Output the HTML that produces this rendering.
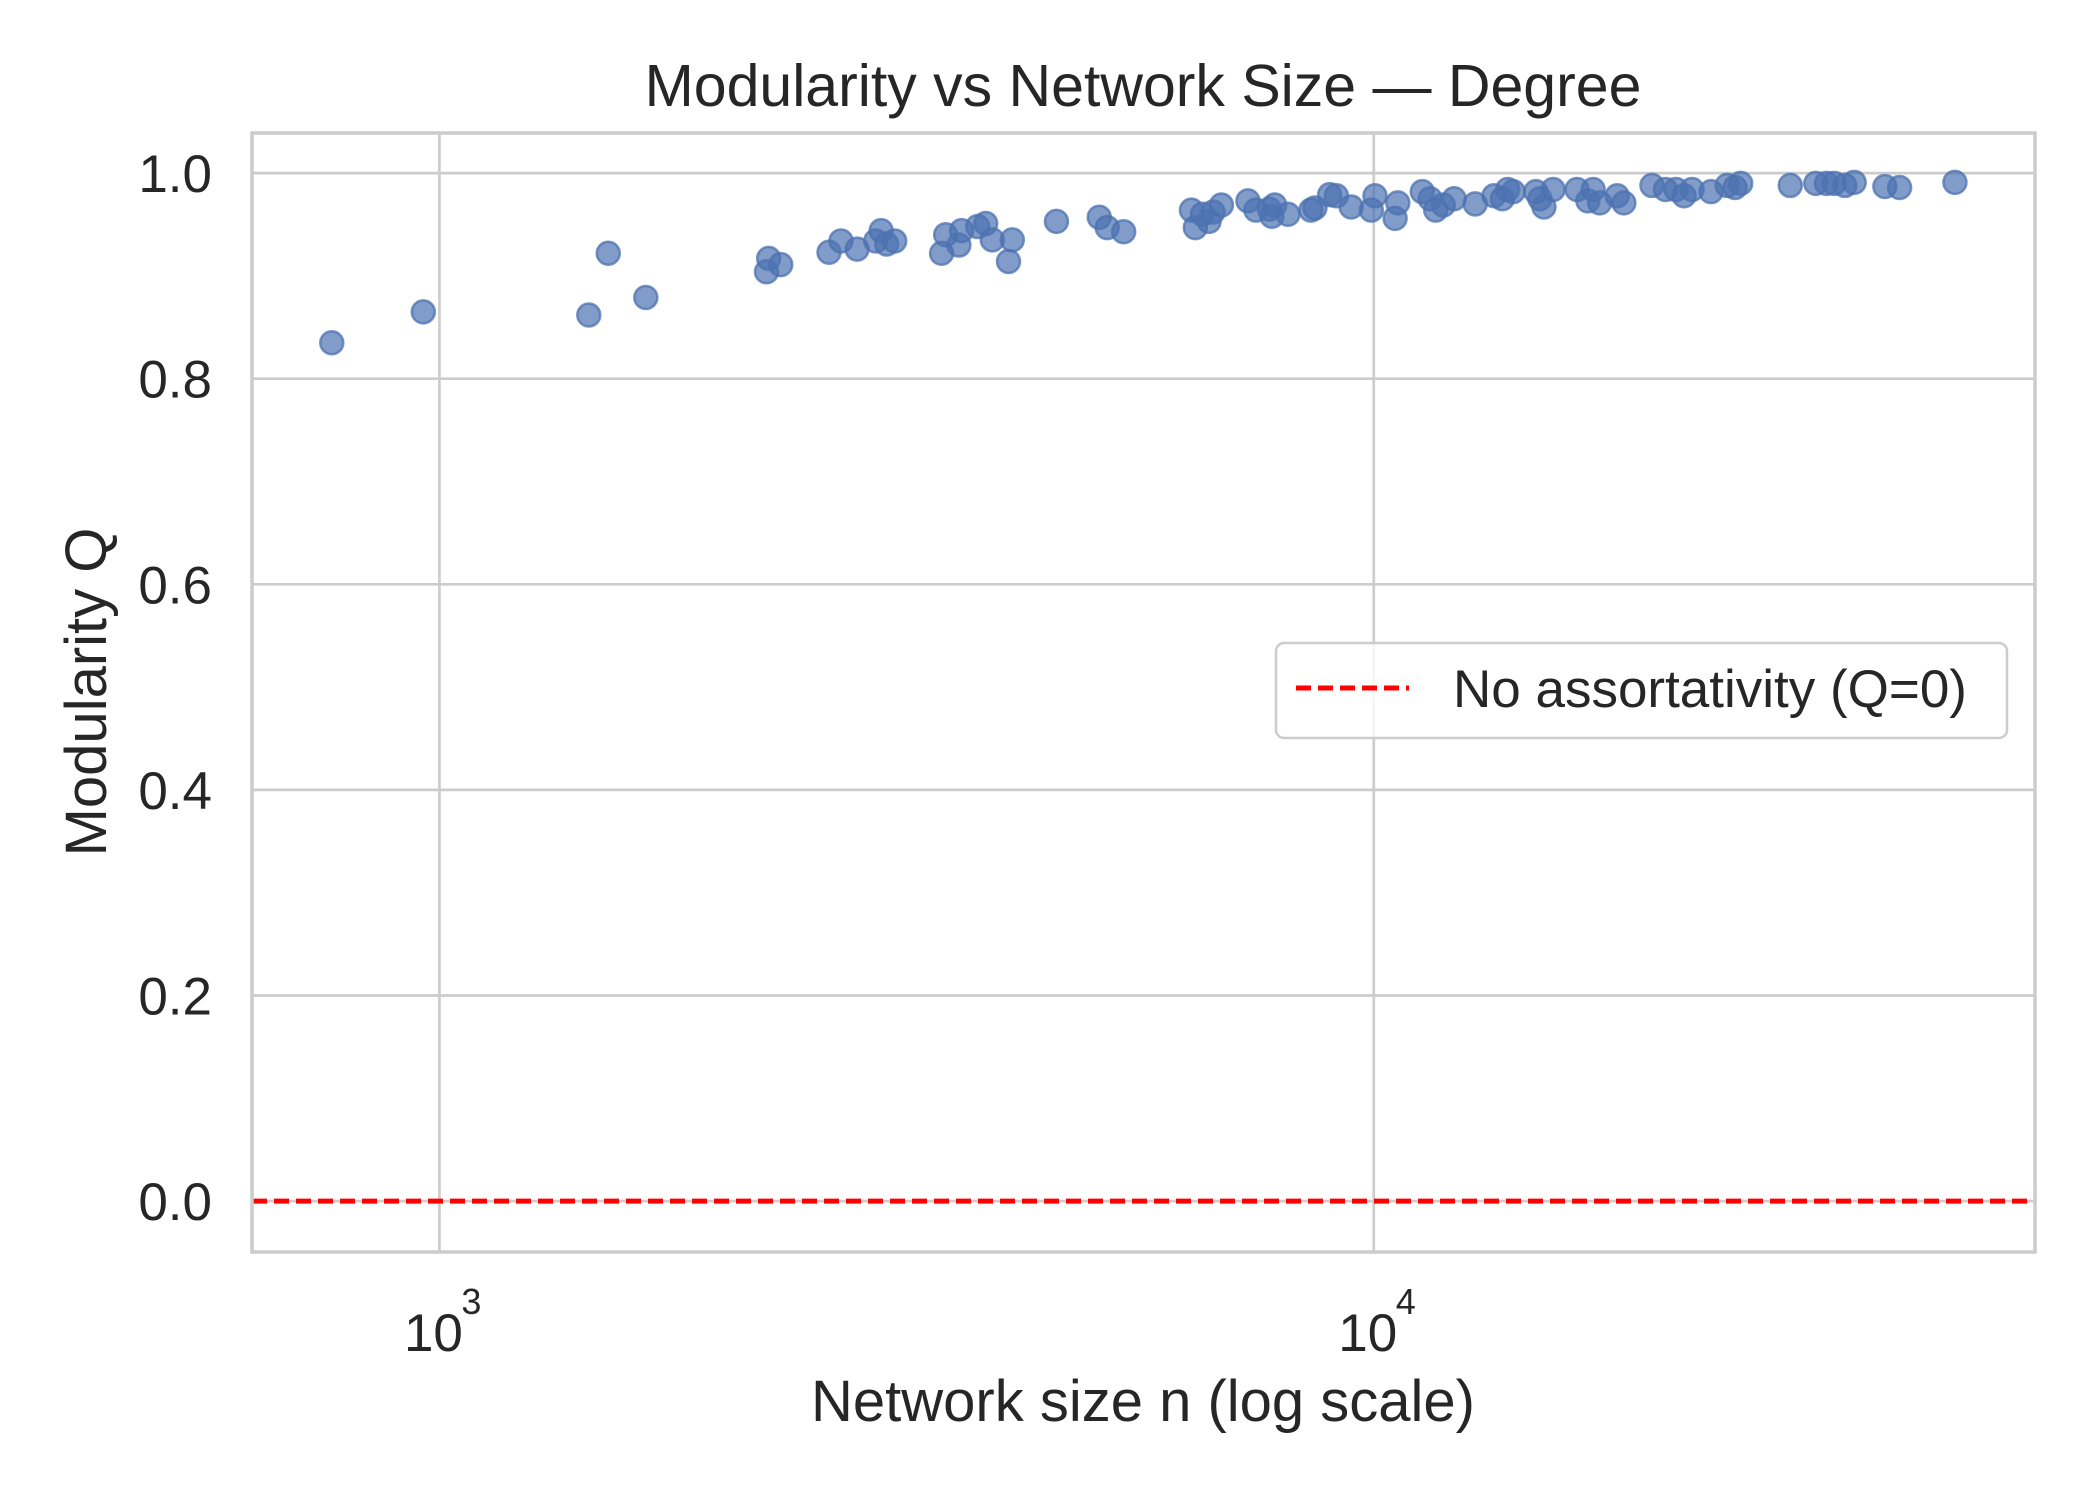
<!DOCTYPE html>
<html><head><meta charset="utf-8"><style>
html,body{margin:0;padding:0;background:#fff;}
svg{display:block;font-family:"Liberation Sans",Arial,sans-serif;}
</style></head><body>
<svg id="chart" width="2100" height="1500" viewBox="0 0 2100 1500" xmlns="http://www.w3.org/2000/svg">
<rect width="2100" height="1500" fill="#fff"/>
<g id="grid"></g>
<g id="marks"></g>
<g id="axes"></g>
<text x="1143" y="106" text-anchor="middle" font-size="59" fill="#262626">Modularity vs Network Size — Degree</text>
<text x="1143" y="1421" text-anchor="middle" font-size="58" fill="#262626">Network size n (log scale)</text>
<text transform="translate(106,692) rotate(-90)" text-anchor="middle" font-size="58" fill="#262626">Modularity Q</text>
<g>
<rect x="1276" y="643" width="731" height="95" rx="8" fill="#fff" fill-opacity="0.8" stroke="#cccccc" stroke-width="2.5"/>
<line x1="1296" y1="688" x2="1409" y2="688" stroke="#ff0000" stroke-width="5" stroke-dasharray="15,7"/>
<text x="1453" y="707" font-size="53" fill="#262626">No assortativity (Q=0)</text>
</g>
</svg>
<script>
const sizes = [767,961,1445,1516,1663,2239,2251,2319,2612,2690,2799,2931,2970,3011,3071,3447,3482,3597,3621,3768,3843,3906,4065,4103,4575,5084,5184,5399,6380,6442,6555,6664,6730,6870,7334,7478,7730,7780,7834,8094,8565,8650,8970,9120,9460,9940,10030,10540,10610,11270,11490,11650,11870,12190,12840,13450,13730,13910,14100,14910,15060,15210,15560,16500,16950,17170,17450,18220,18520,19850,20520,21060,21480,21910,22960,23890,24360,24700,27910,29720,30510,31100,31930,32670,35240,36540,41880];
const modularity = [0.835,0.865,0.862,0.922,0.879,0.904,0.917,0.911,0.923,0.934,0.926,0.934,0.944,0.931,0.934,0.922,0.940,0.930,0.944,0.948,0.951,0.935,0.914,0.935,0.953,0.957,0.947,0.943,0.964,0.947,0.960,0.953,0.962,0.969,0.973,0.964,0.965,0.958,0.969,0.960,0.964,0.966,0.979,0.978,0.967,0.964,0.978,0.956,0.971,0.982,0.975,0.964,0.969,0.975,0.970,0.978,0.975,0.984,0.982,0.982,0.975,0.967,0.984,0.984,0.973,0.984,0.971,0.978,0.971,0.988,0.984,0.984,0.978,0.984,0.982,0.988,0.986,0.990,0.988,0.990,0.990,0.990,0.988,0.991,0.987,0.986,0.991];
const yTicks = [0.0,0.2,0.4,0.6,0.8,1.0];
const yTickLabels = ["0.0","0.2","0.4","0.6","0.8","1.0"];
const xTicks = [1000,10000];
const xTickExps = ["3","4"];
const refLine = [0];

const NS="http://www.w3.org/2000/svg";
const L=252,R=2035,T=133,B=1252;
const xMinLog=2.7994,xMaxLog=4.7077,yMin=-0.0495,yMax=1.039;
function xs(n){return L+(Math.log10(n)-xMinLog)/(xMaxLog-xMinLog)*(R-L);}
function ys(v){return B-(v-yMin)/(yMax-yMin)*(B-T);}
function mk(tag,attrs,parent){const e=document.createElementNS(NS,tag);for(const k in attrs)e.setAttribute(k,attrs[k]);parent.appendChild(e);return e;}
const grid=document.getElementById('grid'),marks=document.getElementById('marks'),axes=document.getElementById('axes');

yTicks.forEach((v,i)=>{
  const y=ys(v);
  const g=mk('line',{x1:L,x2:R,y1:y,y2:y,stroke:'#cccccc','stroke-width':2.7},grid);
  
  
  const t=mk('text',{x:212,y:y+19,'text-anchor':'end','font-size':53,fill:'#262626'},axes);
  t.textContent=yTickLabels[i];
  
  
});
xTicks.forEach((n,i)=>{
  const x=xs(n);
  const g=mk('line',{x1:x,x2:x,y1:T,y2:B,stroke:'#cccccc','stroke-width':2.7},grid);
  
  
  const t=mk('text',{x:x-6,y:1351,'text-anchor':'middle','font-size':53,fill:'#262626'},axes);
  t.textContent='10';
  
  
  const s=mk('text',{x:x+32,y:1314,'text-anchor':'middle','font-size':36,fill:'#262626'},axes);
  s.textContent=xTickExps[i];
  
  
});
refLine.forEach(v=>{
  const l=mk('line',{x1:L,x2:R,y1:ys(v),y2:ys(v),stroke:'#ff0000','stroke-width':5,'stroke-dasharray':'15,7'},marks);
  
  
});
sizes.forEach((n,i)=>{
  const c=mk('circle',{cx:xs(n),cy:ys(modularity[i]),r:11.5,fill:'#4c72b0','fill-opacity':0.7,stroke:'#4c72b0','stroke-opacity':0.75,'stroke-width':2.5},marks);
  
  
});
const sp=mk('rect',{x:L,y:T,width:R-L,height:B-T,fill:'none',stroke:'#cccccc','stroke-width':3.5},axes);


</script>
</body></html>
